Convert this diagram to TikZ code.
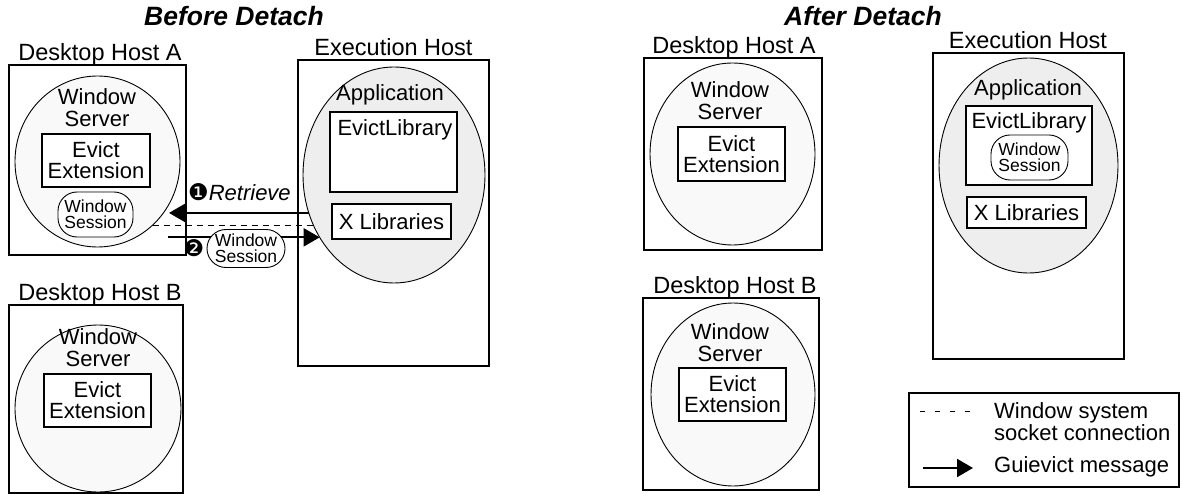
\documentclass[tikz,border=0pt]{standalone}
\usepackage{fontspec}
\setmainfont{Liberation Sans}
\newfontfamily\dingfont{DejaVu Sans}
\usetikzlibrary{shapes.geometric,arrows.meta}

\tikzset{
  hostbox/.style={draw, line width=1.2pt, inner sep=0pt, outer sep=0pt},
  hostname/.style={anchor=base, inner sep=0pt, font=\fontsize{23.5}{24}\selectfont},
  server/.style={ellipse, draw, line width=0.9pt, fill=gray!5, inner sep=0pt, outer sep=0pt},
  appl/.style={ellipse, draw, line width=0.9pt, fill=gray!13, inner sep=0pt, outer sep=0pt},
  part/.style={draw, line width=1.2pt, fill=white, inner sep=0pt, outer sep=0pt, align=center, font=\fontsize{22}{21}\selectfont},
  txt/.style={align=center, inner sep=0pt, font=\fontsize{22}{22}\selectfont},
  session/.style={draw, line width=0.9pt, fill=white, rounded corners=19pt, inner sep=0pt, align=center, font=\fontsize{17.5}{16}\selectfont},
  msg/.style={line width=2pt, -{Triangle[length=16pt,width=18pt]}},
  socket/.style={line width=0.9pt, dash pattern=on 6pt off 5pt},
  legdash/.style={line width=0.9pt, dash pattern=on 5pt off 10pt},
  title/.style={anchor=base, inner sep=0pt, font=\fontsize{26.5}{27}\selectfont\bfseries\itshape},
  numtag/.style={inner sep=0pt, font=\dingfont\fontsize{23}{23}\selectfont}
}

\begin{document}
\begin{tikzpicture}[x=1pt, y=-1pt]
  \useasboundingbox (0,0) rectangle (1182,494);

  % before detach
  \node[title] (titleB) at (234,26) {Before Detach};

  \node[hostbox, minimum width=177pt, minimum height=190pt] (hostAL) at (97.5,160) {};
  \node[hostname] (nameAL) at (100,61) {Desktop Host A};
  \node[server, minimum width=165pt, minimum height=171pt] (srvAL) at (97.5,161.5) {};
  \node[txt] (wsAL) at (97,108) {Window\\Server};
  \node[part, minimum width=108pt, minimum height=53pt] (extAL) at (96,160.5) {Evict\\Extension};
  \node[session, minimum width=75pt, minimum height=45pt] (sesAL) at (95.5,214.5) {Window\\Session};

  \node[hostbox, minimum width=174pt, minimum height=188pt] (hostBL) at (96,399) {};
  \node[hostname] (nameBL) at (100,300) {Desktop Host B};
  \node[server, minimum width=166pt, minimum height=167pt] (srvBL) at (98,408.5) {};
  \node[txt] (wsBL) at (98,348) {Window\\Server};
  \node[part, minimum width=107pt, minimum height=53pt] (extBL) at (97.5,400.5) {Evict\\Extension};

  \node[hostbox, minimum width=191pt, minimum height=306pt] (execL) at (393.5,213) {};
  \node[hostname] (nameEL) at (393.5,56) {Execution Host};
  \node[appl, minimum width=182pt, minimum height=216pt] (appL) at (394,175) {};
  \node[txt] (apL) at (390,95) {Application};
  \node[part, minimum width=127pt, minimum height=80pt] (libL) at (393.5,152) {};
  \node[txt] (libLtxt) at (395,130) {EvictLibrary};
  \node[part, minimum width=119pt, minimum height=35pt] (xlibL) at (391.5,221.5) {X Libraries};

  % messages
  \draw[msg] (appL.204) -- ([xshift=-17pt]appL.204 -| hostAL.east);
  \node[anchor=base west, inner sep=0pt, font=\fontsize{22}{22}\selectfont] (retL) at (188,201)
    {{\dingfont\fontsize{23}{23}\selectfont ❶}\textit{Retrieve}};
  \draw[socket] (srvAL.-49) -- (srvAL.-49 -| appL.212);
  \draw[msg] ([xshift=-18pt]hostAL.east |- appL.220) -- (appL.220);
  \node[numtag] (twoL) at (194,248.5) {❷};
  \node[session, minimum width=78pt, minimum height=38pt] (sesMove) at (246,248.5) {Window\\Session};

  % after detach
  \node[title] (titleA) at (863,26) {After Detach};

  \node[hostbox, minimum width=178pt, minimum height=192pt] (hostAR) at (733,154) {};
  \node[hostname] (nameAR) at (734,54) {Desktop Host A};
  \node[server, minimum width=165pt, minimum height=182pt] (srvAR) at (732.5,154) {};
  \node[txt] (wsAR) at (730,101) {Window\\Server};
  \node[part, minimum width=107pt, minimum height=54pt] (extAR) at (731.5,154) {Evict\\Extension};

  \node[hostbox, minimum width=176pt, minimum height=192pt] (hostBR) at (731,394) {};
  \node[hostname] (nameBR) at (735,293) {Desktop Host B};
  \node[server, minimum width=164pt, minimum height=183pt] (srvBR) at (733,394.5) {};
  \node[txt] (wsBR) at (730,343) {Window\\Server};
  \node[part, minimum width=107pt, minimum height=53pt] (extBR) at (732.5,394.5) {Evict\\Extension};

  \node[hostbox, minimum width=191pt, minimum height=306pt] (execR) at (1028.5,206) {};
  \node[hostname] (nameER) at (1028,49) {Execution Host};
  \node[appl, minimum width=179pt, minimum height=215pt] (appR) at (1028.5,165.5) {};
  \node[txt] (apR) at (1028,90) {Application};
  \node[part, minimum width=126pt, minimum height=79pt] (libR) at (1029,145.5) {};
  \node[txt] (libRtxt) at (1029,123) {EvictLibrary};
  \node[session, minimum width=77pt, minimum height=45pt] (sesR) at (1029.5,157.5) {Window\\Session};
  \node[part, minimum width=119pt, minimum height=31pt] (xlibR) at (1026.5,212.5) {X Libraries};

  % legend
  \node[hostbox, minimum width=270pt, minimum height=94pt] (legend) at (1044,440) {};
  \draw[legdash] ([xshift=11pt,yshift=-18pt]legend.north west) -- ++(50,0);
  \draw[msg] ([xshift=14pt,yshift=19pt]legend.south west) -- ++(50,0);
  \node[txt, anchor=west, align=left] (lgSock) at (994,422) {Window system\\socket connection};
  \node[txt, anchor=west] (lgMsg) at (994,467) {Guievict message};
\end{tikzpicture}
\end{document}
